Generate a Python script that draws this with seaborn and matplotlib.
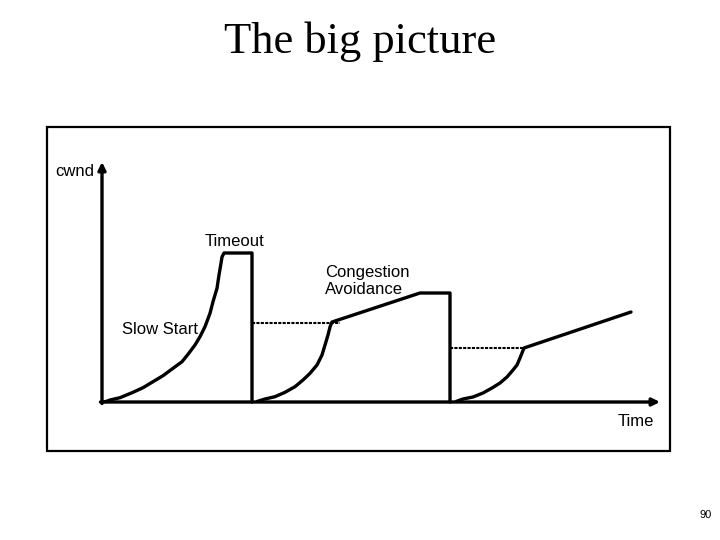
import matplotlib
matplotlib.use("Agg")
import matplotlib.pyplot as plt
from matplotlib.patches import Rectangle
import seaborn as sns
import pandas as pd

sns.set_theme(style="white")
plt.rcParams['font.family'] = ['Liberation Sans', 'DejaVu Sans']
plt.rcParams['text.color'] = 'black'

# ---- data (time, cwnd) ----
# round 1: slow start, then timeout plateau and drop
r1_time = [0, 4, 8, 18, 31, 41, 51, 61, 71, 80, 86, 93, 98, 103, 108, 111,
           115, 117, 119, 120, 122, 150, 150]
r1_cwnd = [0, 0.5, 2, 4.3, 9.7, 14.3, 20.3, 26.3, 33.7, 40.3, 47.7, 57,
           65.3, 75.3, 88.7, 100.3, 113.7, 127, 138.7, 145, 149, 149, 0]
# round 2: slow start to threshold, congestion avoidance, plateau, drop
r2_time = [155, 163, 173, 183, 193, 201, 208, 215, 220, 223, 226, 228, 230,
           318, 348, 348]
r2_cwnd = [0.5, 3, 5.3, 9.7, 15.3, 22, 28.7, 37, 47, 57, 67, 75, 80,
           109, 109, 0]
# round 3: slow start to threshold, congestion avoidance
r3_time = [354, 361, 371, 381, 390, 398, 405, 411, 415, 418, 420, 422, 529]
r3_cwnd = [0.5, 3, 5, 9, 14, 19, 25, 32, 37, 44, 49, 54, 90]
# thresholds (dotted)
th1_time = [150, 238]
th1_cwnd = [79, 79]
th2_time = [348, 421]
th2_cwnd = [54, 54]

title = "The big picture"
page_no = "90"

fig = plt.figure(figsize=(7.2, 5.4), dpi=100)
ax = fig.add_axes([0, 0, 1, 1])
ax.set_xlim(-102, 618)
ax.set_ylim(-138, 402)
ax.axis("off")

lw = 2.4
for t, c in [(r1_time, r1_cwnd), (r2_time, r2_cwnd), (r3_time, r3_cwnd)]:
    df = pd.DataFrame({"time": t, "cwnd": c})
    sns.lineplot(data=df, x="time", y="cwnd", sort=False, estimator=None,
                 color="black", lw=lw, ax=ax, solid_joinstyle="round",
                 solid_capstyle="round")
for t, c in [(th1_time, th1_cwnd), (th2_time, th2_cwnd)]:
    df = pd.DataFrame({"time": t, "cwnd": c})
    sns.lineplot(data=df, x="time", y="cwnd", sort=False, estimator=None,
                 color="black", lw=1.5, ax=ax, linestyle=(0, (1.5, 0.6)),
                 dash_capstyle="butt")

# axes arrows
arrow = dict(arrowstyle="-|>", lw=2.4, color="black", mutation_scale=11,
             shrinkA=0, shrinkB=0)
ax.annotate("", xy=(0, 240), xytext=(0, -1.5), arrowprops=arrow)
ax.annotate("", xy=(558, 0), xytext=(-1.5, 0), arrowprops=arrow)

# frame box
ax.add_patch(Rectangle((-55, -49), 623, 324, fill=False, lw=1.6,
                       edgecolor="black"))

fs = 12
ax.text(-47, 231, "cwnd", fontsize=fs, va="center", ha="left", color="black")
ax.text(103, 161, "Timeout", fontsize=fs, va="center", ha="left", color="black")
ax.text(223, 121, "Congestion\nAvoidance", fontsize=fs, va="center",
        ha="left", linespacing=1.1, color="black")
ax.text(20, 72, "Slow Start", fontsize=fs, va="center", ha="left", color="black")
ax.text(516, -20, "Time", fontsize=fs, va="center", ha="left", color="black")

fig.text(0.5, 1 - 53 / 540, title, fontsize=32, ha="center", color="black",
         va="baseline", family=["Liberation Serif", "DejaVu Serif"])
fig.text(712 / 720, 1 - 515 / 540, page_no, fontsize=8, ha="right",
         va="center", color="black")

fig.savefig("out.png", dpi=100)
